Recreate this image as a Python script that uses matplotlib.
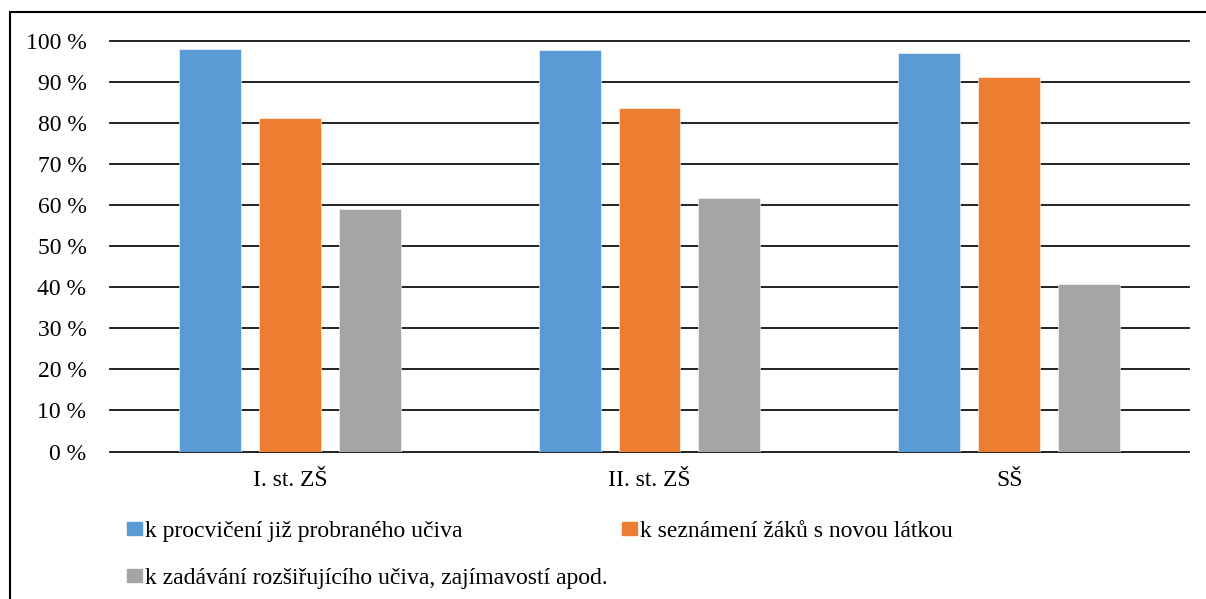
import matplotlib.pyplot as plt
from matplotlib.patches import Rectangle
import numpy as np

# Data
kategorie = ['I. st. ZŠ', 'II. st. ZŠ', 'SŠ']
procviceni = [98.0, 97.8, 97.1]
seznameni = [81.3, 83.7, 91.2]
rozsirujici = [59.0, 61.7, 40.7]
serie_nazvy = ['k procvičení již probraného učiva',
               'k seznámení žáků s novou látkou',
               'k zadávání rozšiřujícího učiva, zajímavostí apod.']
barvy = ['#5B9BD5', '#ED7D31', '#A5A5A5']
y_ticks = [0, 10, 20, 30, 40, 50, 60, 70, 80, 90, 100]

plt.rcParams['font.family'] = ['Liberation Serif', 'DejaVu Serif']
FS = 17

W, H = 1206, 599
fig = plt.figure(figsize=(W / 100, H / 100), dpi=100)
ax = fig.add_axes([110 / W, 1 - 451.5 / H, (1189 - 110) / W, (451.5 - 41) / H])

x = np.arange(len(kategorie))
sirka = 0.172
posun = 0.222
for i, (hodnoty, barva) in enumerate(zip([procviceni, seznameni, rozsirujici], barvy)):
    ax.bar(x + (i - 1) * posun, hodnoty, width=sirka, color=barva,
           edgecolor='white', linewidth=0.4, zorder=3)

ax.set_xlim(-0.5, 2.5)
ax.set_ylim(0, 100)
ax.set_yticks(y_ticks)
ax.set_yticklabels([f'{v} %' for v in y_ticks], fontsize=FS)
ax.set_xticks(x)
ax.set_xticklabels(kategorie, fontsize=FS)
ax.tick_params(axis='y', length=0, pad=17)
ax.tick_params(axis='x', length=0, pad=13)
ax.yaxis.grid(True, color='#111111', linewidth=1.3, zorder=0)
for line in ax.get_ygridlines():
    line.set_clip_on(False)
ax.set_axisbelow(True)
for s in ax.spines.values():
    s.set_visible(False)

# legenda: sloupec 1 = modrá, šedá ; sloupec 2 = oranžová
leg_handles = [Rectangle((0, 0), 1, 1, color=barvy[0]),
               Rectangle((0, 0), 1, 1, color=barvy[2]),
               Rectangle((0, 0), 1, 1, color=barvy[1])]
leg_labels = [serie_nazvy[0], serie_nazvy[2], serie_nazvy[1]]
fig.legend(leg_handles, leg_labels, ncol=2, loc='upper left',
           bbox_to_anchor=(127 / W, 1 - 521 / H), frameon=False, fontsize=FS,
           handlelength=0.64, handleheight=0.5, handletextpad=0.13,
           columnspacing=0.6, labelspacing=1.1, borderaxespad=0, borderpad=0)

# rámeček kolem grafu
fig.patches.append(Rectangle((10 / W, -0.1), 1.2, 1 - 12 / H + 0.1,
                             transform=fig.transFigure, fill=False,
                             edgecolor='black', linewidth=1.5))

fig.savefig('out.png', dpi=100)
